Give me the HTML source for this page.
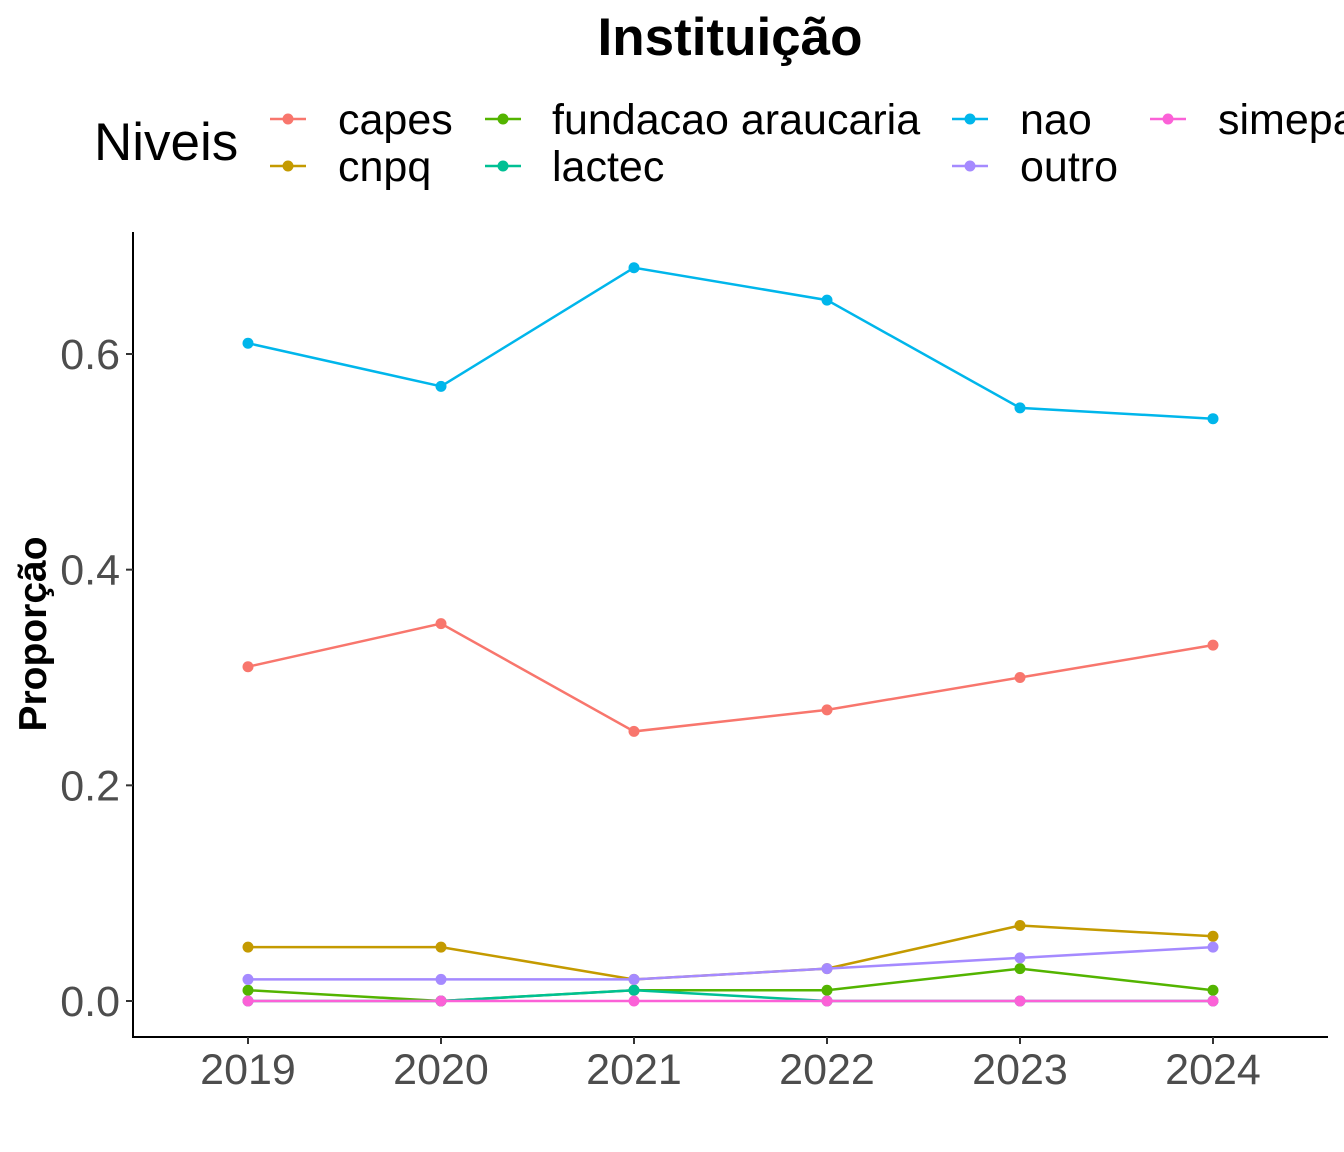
<!DOCTYPE html>
<html><head><meta charset="utf-8"><style>
body{margin:0;background:#fff}
svg{display:block;font-family:"Liberation Sans",sans-serif}
</style></head><body>
<svg id="chart" width="1344" height="1152" viewBox="0 0 1344 1152">
<rect width="1344" height="1152" fill="#fff"/>
<text x="730" y="55" font-size="53" font-weight="bold" text-anchor="middle">Instituição</text>
<text x="94" y="160" font-size="53">Niveis</text>
<g id="legend"></g>
<line x1="133" y1="232" x2="133" y2="1038" stroke="#000" stroke-width="2"/>
<line x1="132" y1="1037" x2="1328" y2="1037" stroke="#000" stroke-width="2"/>
<g id="axes"></g>
<g id="series"></g>
<text transform="translate(46,634) rotate(-90)" font-size="39" font-weight="bold" text-anchor="middle">Proporção</text>
</svg>
<script>
const years = [2019, 2020, 2021, 2022, 2023, 2024];
const yTicks = [0.0, 0.2, 0.4, 0.6];
const yTickLabels = ["0.0", "0.2", "0.4", "0.6"];
const seriesNames = ["capes", "cnpq", "fundacao araucaria", "lactec", "nao", "outro", "simepar"];
const capes = [0.31, 0.35, 0.25, 0.27, 0.30, 0.33];
const cnpq = [0.05, 0.05, 0.02, 0.03, 0.07, 0.06];
const fundacao = [0.01, 0.00, 0.01, 0.01, 0.03, 0.01];
const lactec = [0.00, 0.00, 0.01, 0.00, 0.00, 0.00];
const nao = [0.61, 0.57, 0.68, 0.65, 0.55, 0.54];
const outro = [0.02, 0.02, 0.02, 0.03, 0.04, 0.05];
const simepar = [0.00, 0.00, 0.00, 0.00, 0.00, 0.00];
const seriesValues = [capes, cnpq, fundacao, lactec, nao, outro, simepar];
const colors = ["#F8766D", "#C49A00", "#53B400", "#00C094", "#00B6EB", "#A58AFF", "#FB61D7"];
const NS = "http://www.w3.org/2000/svg";
const xScale = i => 248 + (1213 - 248) * (years[i] - years[0]) / (years[years.length-1] - years[0]);
const yScale = v => 1001 - v * (1001 - 354) / 0.6;
function mk(tag, attrs, parent){const e=document.createElementNS(NS,tag);for(const k in attrs)e.setAttribute(k,attrs[k]);parent.appendChild(e);return e;}
const axes=document.getElementById('axes');
yTicks.forEach((t,i)=>{
  const y=yScale(t);
  const l=mk('line',{x1:126,x2:133,y1:y,y2:y,stroke:'#333','stroke-width':2},axes);
  
  
  const tx=mk('text',{x:120,y:y+15,'font-size':43,fill:'#4d4d4d','text-anchor':'end'},axes);
  tx.textContent=yTickLabels[i];
  
  
});
years.forEach((yr,i)=>{
  const x=xScale(i);
  const l=mk('line',{x1:x,x2:x,y1:1037,y2:1044,stroke:'#333','stroke-width':2},axes);
  
  
  const tx=mk('text',{x:x,y:1084,'font-size':43,fill:'#4d4d4d','text-anchor':'middle'},axes);
  tx.textContent=yr;
  
  
});
const sg=document.getElementById('series');
seriesValues.forEach((vals,s)=>{
  const g=mk('g',{},sg);
  
  
  const pts=vals.map((v,i)=>xScale(i)+','+yScale(v)).join(' ');
  const pl=mk('polyline',{points:pts,fill:'none',stroke:colors[s],'stroke-width':2.5},g);
  
  
  vals.forEach((v,i)=>{
    const c=mk('circle',{cx:xScale(i),cy:yScale(v),r:5.5,fill:colors[s]},g);
    
    
  });
});
const lg=document.getElementById('legend');
const legX=[288,503,970,1168], legTX=[338,552,1020,1218], legY=[119,166];
seriesNames.forEach((n,s)=>{
  const col=Math.floor(s/2), row=s%2;
  const g=mk('g',{},lg);
  
  
  mk('line',{x1:legX[col]-18,x2:legX[col]+18,y1:legY[row],y2:legY[row],stroke:colors[s],'stroke-width':2.5},g);
  mk('circle',{cx:legX[col],cy:legY[row],r:5.5,fill:colors[s]},g);
  const t=mk('text',{x:legTX[col],y:legY[row]+15,'font-size':43},g);
  t.textContent=n;
});
</script>
</body></html>
